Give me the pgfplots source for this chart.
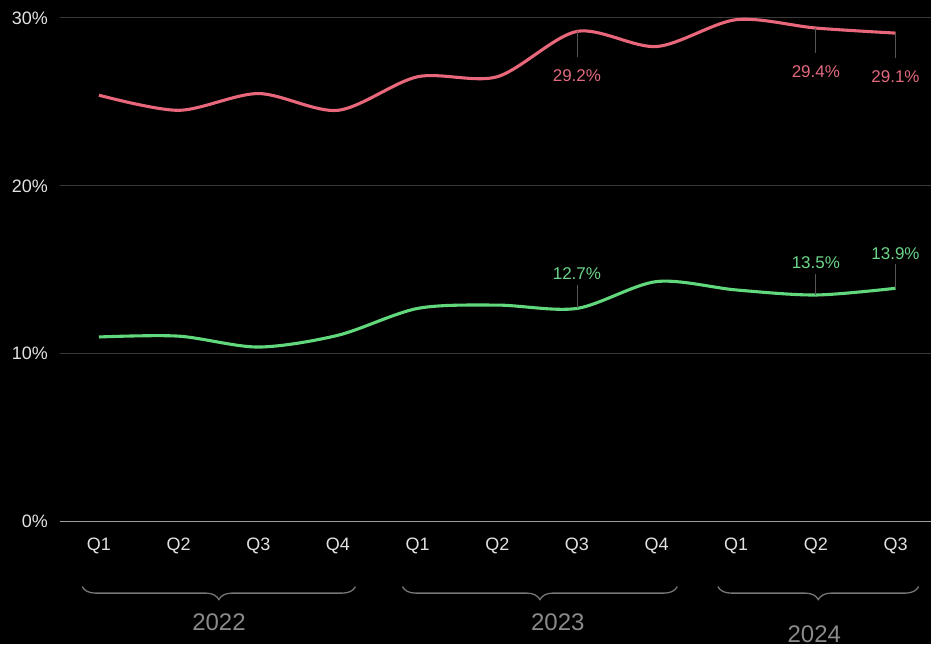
\documentclass[border=0pt]{standalone}
\usepackage{pgfplots}
\pgfplotsset{compat=1.18}
\usepackage{fontspec}
\setmainfont{Liberation Sans}
\usetikzlibrary{decorations.pathreplacing}
\definecolor{redline}{HTML}{E9677B}
\definecolor{greenline}{HTML}{62D87C}
\definecolor{redtext}{HTML}{E26A7E}
\definecolor{greentext}{HTML}{6CD588}
\definecolor{gridc}{HTML}{3A3A3A}
\definecolor{ticktext}{HTML}{E2E2E2}
\definecolor{yeartext}{HTML}{8A8A8A}
\definecolor{bracec}{HTML}{767676}
\definecolor{annline}{HTML}{555555}
\pgfplotstableread{
x y
0 25.4
1 24.5
2 25.5
3 24.5
4 26.5
5 26.5
6 29.2
7 28.3
8 29.9
9 29.4
10 29.1
}\redtab
\pgfplotstableread{
x y
0 11.0
1 11.05
2 10.4
3 11.1
4 12.7
5 12.9
6 12.7
7 14.3
8 13.8
9 13.5
10 13.9
}\greentab
\begin{document}
\begin{tikzpicture}
\fill[black] (-60pt,-122pt) rectangle (872pt,522pt);
\begin{axis}[
  at={(0,0)}, anchor=south west,
  scale only axis, width=872pt, height=504pt,
  xmin=-0.49, xmax=10.45, ymin=0, ymax=30,
  clip=false,
  axis line style={draw=none},
  major tick length=0pt,
  xtick={0,...,10},
  xticklabels={Q1,Q2,Q3,Q4,Q1,Q2,Q3,Q4,Q1,Q2,Q3},
  xticklabel style={font=\fontsize{18}{20}\selectfont, text=ticktext, anchor=north, inner sep=0pt, yshift=-16pt},
  ytick={10,20,30},
  yticklabels={10\%,20\%,30\%},
  extra y ticks={0},
  extra y tick labels={0\%},
  extra y tick style={grid style={color=gray!75!white, line width=1.3pt}},
  yticklabel style={font=\fontsize{18}{20}\selectfont, text=ticktext, anchor=east, inner sep=0pt, xshift=-12pt},
  ymajorgrids,
  grid style={color=gridc, line width=1pt},
  /pgf/number format/assume math mode=true,
]
\addplot[redline, line width=3.1pt, smooth, tension=0.5] table[x=x,y=y] {\redtab};
\addplot[greenline, line width=3.1pt, smooth, tension=0.5] table[x=x,y=y] {\greentab};

% annotations red (below)
\draw[annline, line width=0.8pt] (axis cs:6,29.2) -- ++(0pt,-26pt) ++(0pt,-18pt) node[text=redtext, font=\fontsize{17}{19}\selectfont] {29.2\%};
\draw[annline, line width=0.8pt] (axis cs:9,29.4) -- ++(0pt,-25pt) ++(0pt,-19pt) node[text=redtext, font=\fontsize{17}{19}\selectfont] {29.4\%};
\draw[annline, line width=0.8pt] (axis cs:10,29.1) -- ++(0pt,-25pt) ++(0pt,-19pt) node[text=redtext, font=\fontsize{17}{19}\selectfont] {29.1\%};
% annotations green (above)
\draw[annline, line width=0.8pt] (axis cs:6,12.7) -- ++(0pt,23pt) ++(0pt,12pt) node[text=greentext, font=\fontsize{17}{19}\selectfont] {12.7\%};
\draw[annline, line width=0.8pt] (axis cs:9,13.5) -- ++(0pt,21pt) ++(0pt,11pt) node[text=greentext, font=\fontsize{17}{19}\selectfont] {13.5\%};
\draw[annline, line width=0.8pt] (axis cs:10,13.9) -- ++(0pt,24pt) ++(0pt,11pt) node[text=greentext, font=\fontsize{17}{19}\selectfont] {13.9\%};

% year braces
\draw[bracec, line width=1.3pt, decorate, decoration={brace, mirror, amplitude=13pt}] (axis cs:-0.21,-3.87) -- (axis cs:3.22,-3.87);
\draw[bracec, line width=1.3pt, decorate, decoration={brace, mirror, amplitude=13pt}] (axis cs:3.81,-3.87) -- (axis cs:7.26,-3.87);
\draw[bracec, line width=1.3pt, decorate, decoration={brace, mirror, amplitude=13pt}] (axis cs:7.77,-3.87) -- (axis cs:10.29,-3.87);
\node[text=yeartext, font=\fontsize{24}{26}\selectfont] at (axis cs:1.506,-6.01) {2022};
\node[text=yeartext, font=\fontsize{24}{26}\selectfont] at (axis cs:5.76,-6.01) {2023};
\node[text=yeartext, font=\fontsize{24}{26}\selectfont] at (axis cs:8.98,-6.73) {2024};
\end{axis}
\end{tikzpicture}
\end{document}
